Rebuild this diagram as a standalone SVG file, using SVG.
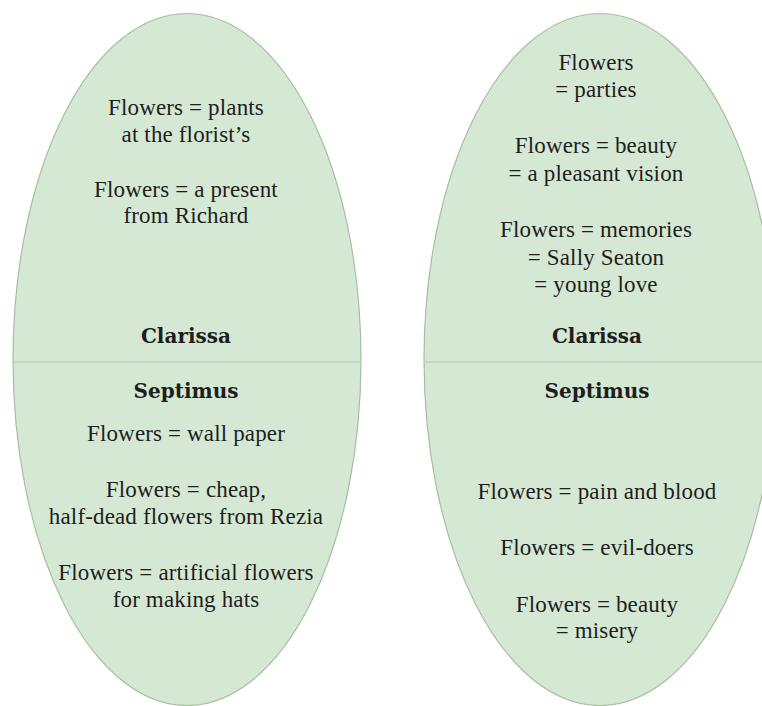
<svg xmlns="http://www.w3.org/2000/svg" width="762" height="706" viewBox="0 0 762 706">
<style>
.ell{fill:#d5e8d4;stroke:#a6bf9f;stroke-width:1.2}
.div{stroke:#bcd3b7;stroke-width:1.5}
.t{font-family:"Liberation Serif","Times New Roman",serif;font-size:23px;letter-spacing:0.15px;fill:#1e1e1e;text-anchor:middle}
.h{font-family:"DejaVu Serif","Liberation Serif",serif;font-size:20px;font-weight:bold;fill:#1e1e1e;text-anchor:middle}
</style>
<rect width="762" height="706" fill="#ffffff"/>
<g id="left">
<ellipse class="ell" cx="187" cy="359.5" rx="174" ry="346"/>
<line class="div" x1="13" y1="362" x2="361" y2="362"/>
<text class="t" x="186" y="115">Flowers = plants</text>
<text class="t" x="186" y="142">at the florist’s</text>
<text class="t" x="186" y="197">Flowers = a present</text>
<text class="t" x="186" y="223">from Richard</text>
<text class="h" x="186" y="343">Clarissa</text>
<text class="h" x="186" y="398">Septimus</text>
<text class="t" x="186" y="441">Flowers = wall paper</text>
<text class="t" x="186" y="497">Flowers = cheap,</text>
<text class="t" x="186" y="524">half-dead flowers from Rezia</text>
<text class="t" x="186" y="580">Flowers = artificial flowers</text>
<text class="t" x="186" y="607">for making hats</text>
</g>
<g id="right">
<ellipse class="ell" cx="600" cy="359.5" rx="176" ry="346"/>
<line class="div" x1="424" y1="362" x2="776" y2="362"/>
<text class="t" x="596" y="70">Flowers</text>
<text class="t" x="596" y="97">= parties</text>
<text class="t" x="596" y="153">Flowers = beauty</text>
<text class="t" x="596" y="181">= a pleasant vision</text>
<text class="t" x="596" y="237">Flowers = memories</text>
<text class="t" x="596" y="265">= Sally Seaton</text>
<text class="t" x="596" y="292">= young love</text>
<text class="h" x="597" y="343">Clarissa</text>
<text class="h" x="597" y="398">Septimus</text>
<text class="t" x="597" y="499">Flowers = pain and blood</text>
<text class="t" x="597" y="555">Flowers = evil-doers</text>
<text class="t" x="597" y="612">Flowers = beauty</text>
<text class="t" x="597" y="638">= misery</text>
</g>
<g id="connectors"></g>
</svg>
